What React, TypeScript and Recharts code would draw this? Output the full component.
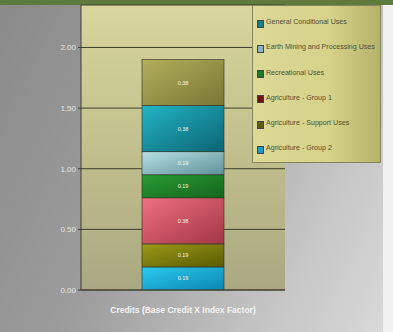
import React from "react";
import { BarChart, Bar, XAxis, YAxis, CartesianGrid, LabelList } from "recharts";

// stacking order, bottom to top
const seriesNames = [
  "Agriculture - Group 2",
  "Agriculture - Support Uses",
  "Agriculture - Group 1",
  "Recreational Uses",
  "Earth Mining and Processing Uses",
  "General Conditional Uses",
  "Other Uses",
];
const seriesValues = [0.19, 0.19, 0.38, 0.19, 0.19, 0.38, 0.38];
const category = "Credits (Base Credit X Index Factor)";
const yTicks = [0, 0.5, 1, 1.5, 2];
// legend lists the first six series, top of the stack first
const legendCount = 6;

const barFills = [
  ["#2ccaf0", "#0a86b0"],
  ["#9a9a18", "#5a5a04"],
  ["#ee7080", "#a23646"],
  ["#2a9a34", "#14661c"],
  ["#b8e0e4", "#5e9098"],
  ["#22b4c4", "#0c6474"],
  ["#b2ae5c", "#7a7634"],
];
const swatches = ["#1a9ac8", "#5c5c12", "#6e1212", "#1e7a2a", "#8cb0c4", "#1a7c8a"];

const data = [
  seriesNames.reduce((row: any, name, i) => {
    row["s" + i] = seriesValues[i];
    return row;
  }, { name: category }),
];

const font = "Liberation Sans, Arial, sans-serif";

const LegendBox = () => {
  const idx = seriesNames.slice(0, legendCount).map((_, i) => i).reverse();
  return (
    <div
      style={{
        position: "absolute",
        left: 252,
        top: 5,
        width: 129,
        height: 158,
        boxSizing: "border-box",
        border: "1px solid #86845e",
        background: "linear-gradient(90deg, #dcd896 0%, #d6d28a 60%, #b6b26a 100%)",
        padding: "12px 0 0 4px",
        fontFamily: font,
        fontSize: 7.1,
        color: "#4e4e34",
      }}
    >
      {idx.map((i) => (
        <div key={i} style={{ height: 25.3, display: "flex", alignItems: "flex-start" }}>
          <span
            style={{
              display: "inline-block",
              width: 5,
              height: 6,
              marginRight: 2,
              marginTop: 1.5,
              background: swatches[i],
              border: "0.5px solid #444",
            }}
          />
          <span style={{ whiteSpace: "nowrap" }}>{seriesNames[i]}</span>
        </div>
      ))}
    </div>
  );
};

const XTick = (props: any) => {
  const { x, y, payload } = props;
  return (
    <text x={x} y={y + 15} textAnchor="middle" fill="#f4f4f4" fontSize={8.5} fontWeight="bold" fontFamily={font}>
      {payload.value}
    </text>
  );
};

export default function App() {
  return (
    <div
      style={{
        position: "absolute",
        left: 0,
        top: 0,
        width: 393,
        height: 332,
        overflow: "hidden",
        background: "linear-gradient(115deg, #8a8a8a 0%, #9c9c9c 40%, #c4c4c4 75%, #dadada 100%)",
      }}
    >
      <div style={{ position: "absolute", left: 0, top: 0, width: 393, height: 5, background: "#5d7b3c" }} />
      <div style={{ position: "absolute", left: 383, top: 5, width: 10, height: 327, background: "#f0f0f0" }} />
      <BarChart
        width={393}
        height={332}
        data={data}
        margin={{ top: 5, right: 108, bottom: 0, left: 0 }}
        style={{ position: "absolute", left: 0, top: 0 }}
      >
        <defs>
          <linearGradient id="plotBg" x1="0" y1="0" x2="0" y2="1">
            <stop offset="0%" stopColor="#d8d69c" />
            <stop offset="45%" stopColor="#c4c28e" />
            <stop offset="100%" stopColor="#aaa882" />
          </linearGradient>
          {barFills.map((c, i) => (
            <linearGradient key={i} id={"bf" + i} x1="0" y1="0" x2="1" y2="1">
              <stop offset="0%" stopColor={c[0]} />
              <stop offset="100%" stopColor={c[1]} />
            </linearGradient>
          ))}
        </defs>
        <CartesianGrid
          vertical={false}
          stroke="#3e3e2c"
          strokeWidth={1}
          fill="url(#plotBg)"
          fillOpacity={1}
        />
        <XAxis
          dataKey="name"
          height={42}
          axisLine={{ stroke: "#3e3e2c" }}
          tickLine={false}
          tick={<XTick />}
          interval={0}
        />
        <YAxis
          width={81}
          domain={[0, 2.35]}
          ticks={yTicks}
          tickFormatter={(v: number) => v.toFixed(2)}
          axisLine={{ stroke: "#3e3e2c" }}
          tickLine={{ stroke: "#3e3e2c" }}
          tickSize={3}
          tick={{ fill: "#e6e6e6", fontSize: 8, fontFamily: font }}
          allowDataOverflow
        />
        {seriesNames.map((name, i) => (
          <Bar
            key={name}
            dataKey={"s" + i}
            name={name}
            stackId="a"
            barSize={82}
            fill={barFills[i][1]}
            shape={(p: any) => (
              <rect x={p.x} y={p.y} width={p.width} height={p.height} fill={"url(#bf" + i + ")"} stroke="#2c2c20" strokeWidth={0.6} />
            )}
            isAnimationActive={false}
          >
            <LabelList
              dataKey={"s" + i}
              position="center"
              formatter={(v: any) => Number(v).toFixed(2)}
              fill="#f4f4f4"
              fontSize={5.5}
              fontFamily={font}
            />
          </Bar>
        ))}
      </BarChart>
      <LegendBox />
    </div>
  );
}
